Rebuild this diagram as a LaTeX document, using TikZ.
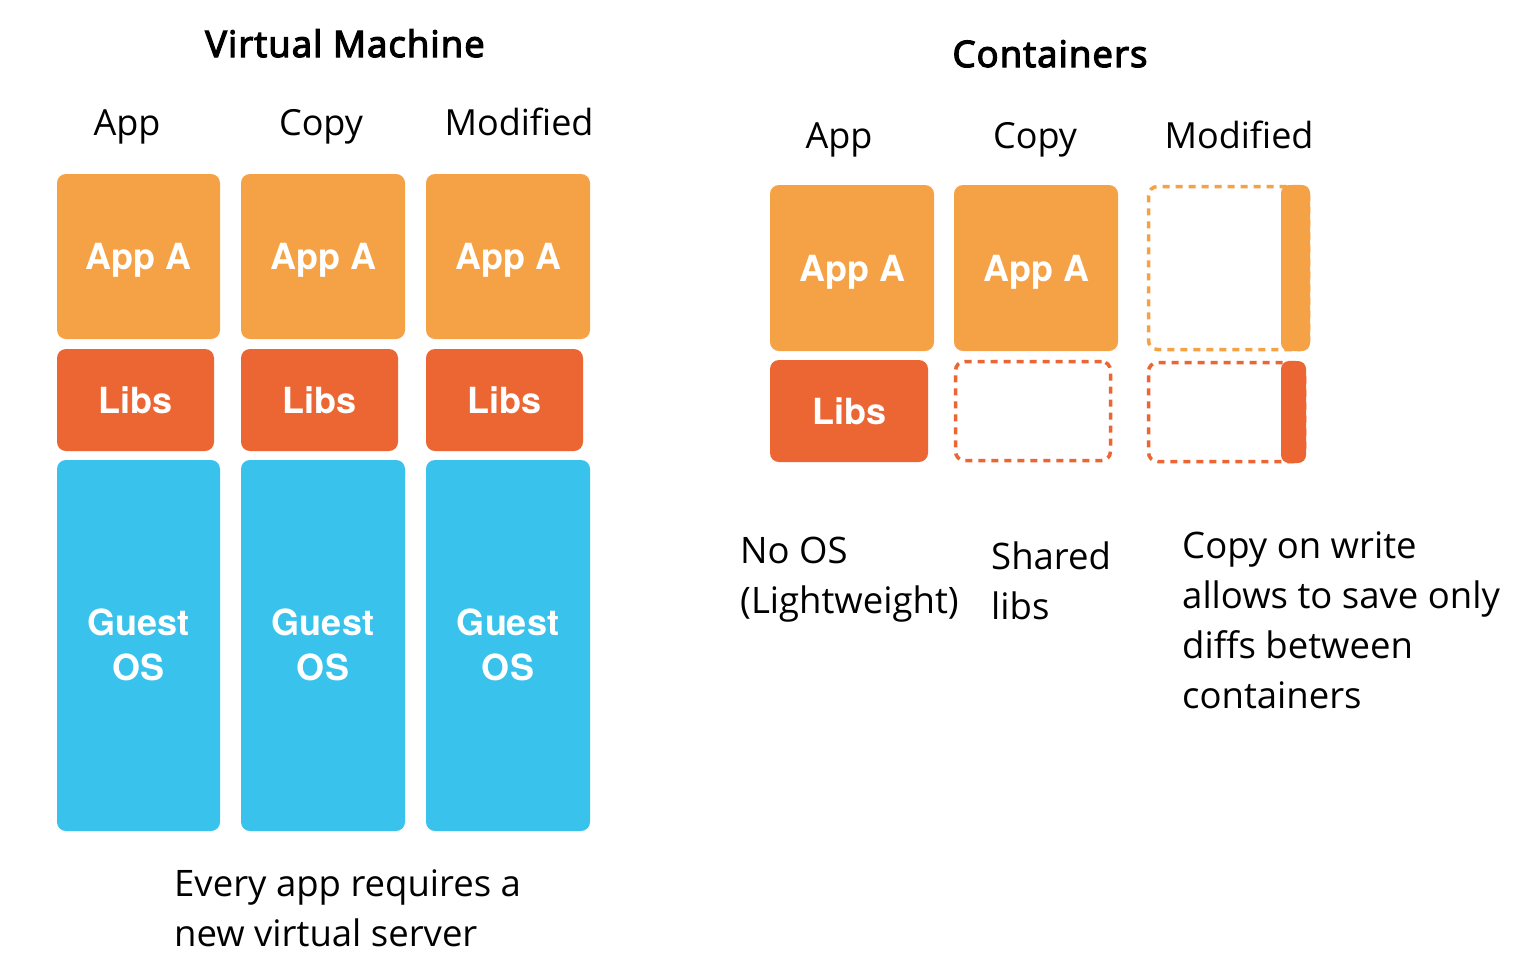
\documentclass[tikz,border=0pt]{standalone}
\usepackage{fontspec}
\setmainfont{Open Sans}
\newfontfamily\heros{TeX Gyre Heros}
\newfontfamily\semi{Open Sans}[FakeBold=3.5,LetterSpace=3]
\definecolor{appC}{HTML}{F5A146}
\definecolor{libC}{HTML}{EC6634}
\definecolor{osC}{HTML}{38C2EC}
\begin{document}
\begin{tikzpicture}[x=1pt,y=-1pt,
  blk/.style={rectangle, rounded corners=9pt, inner sep=0pt, text=white,
    font=\heros\bfseries\fontsize{36pt}{45pt}\selectfont, text height=26pt, text depth=0pt},
  appbox/.style={blk, fill=appC},
  libbox/.style={blk, fill=libC},
  osbox/.style={blk, fill=osC},
  ghost/.style={rectangle, rounded corners=9pt, inner sep=0pt, dash pattern=on 7pt off 6pt, line width=3.5pt},
  barbox/.style={rectangle, rounded corners=8pt, inner sep=0pt},
  oslbl/.style={inner sep=0pt, text=white, align=center, anchor=base,
    font=\heros\bfseries\fontsize{36pt}{45pt}\selectfont},
  txt/.style={font=\fontsize{36.5pt}{50pt}\selectfont, inner sep=0pt, align=left, anchor=base west},
  head/.style={font=\semi\fontsize{36.5pt}{43pt}\selectfont, inner sep=0pt, anchor=base},
  colh/.style={font=\fontsize{36pt}{43pt}\selectfont, inner sep=0pt, anchor=base},
]
\fill[white] (0,0) rectangle (1530,970);
\useasboundingbox (0,0) rectangle (1530,970);

% ---------- Virtual Machine ----------
\node[head] (vmtitle) at (345,57) {Virtual Machine};
\node[colh] (vmh1) at (127,135) {App};
\node[colh] (vmh2) at (321,135) {Copy};
\node[colh] (vmh3) at (519,135) {Modified};

\node[appbox, minimum width=163pt, minimum height=165pt] (vA1) at (138.5,256.5) {App A};
\node[appbox, minimum width=164pt, minimum height=165pt] (vA2) at (323,256.5) {App A};
\node[appbox, minimum width=164pt, minimum height=165pt] (vA3) at (508,256.5) {App A};

\node[libbox, minimum width=157pt, minimum height=102pt] (vL1) at (135.5,400) {Libs};
\node[libbox, minimum width=157pt, minimum height=102pt] (vL2) at (319.5,400) {Libs};
\node[libbox, minimum width=157pt, minimum height=102pt] (vL3) at (504.5,400) {Libs};

\node[osbox, minimum width=163pt, minimum height=371pt] (vO1) at (138.5,645.5) {};
\node[osbox, minimum width=164pt, minimum height=371pt] (vO2) at (323,645.5) {};
\node[osbox, minimum width=164pt, minimum height=371pt] (vO3) at (508,645.5) {};
\node[oslbl] (vO1t) at (138.5,680) {Guest\\OS};
\node[oslbl] (vO2t) at (323,680) {Guest\\OS};
\node[oslbl] (vO3t) at (508,680) {Guest\\OS};

\node[txt] (vmnote) at (174,946) {Every app requires a\\new virtual server};

% ---------- Containers ----------
\node[head] (cttitle) at (1050,67) {Containers};
\node[colh] (cth1) at (839,148) {App};
\node[colh] (cth2) at (1035,148) {Copy};
\node[colh] (cth3) at (1239,148) {Modified};

\node[appbox, minimum width=164pt, minimum height=166pt] (cA1) at (852,268) {App A};
\node[appbox, minimum width=164pt, minimum height=166pt] (cA2) at (1036,268) {App A};
\node[libbox, minimum width=158pt, minimum height=102pt] (cL1) at (849,411) {Libs};
\node[ghost, draw=libC, minimum width=155pt, minimum height=99pt] (cL2) at (1033,411) {};

\node[ghost, draw=appC, minimum width=160pt, minimum height=163pt] (cA3) at (1228.5,268) {};
\node[barbox, fill=appC, minimum width=29pt, minimum height=166pt] (cA3bar) at (1295.5,268) {};
\node[ghost, draw=libC, minimum width=156pt, minimum height=99pt] (cL3) at (1226.5,412) {};
\node[barbox, fill=libC, minimum width=25pt, minimum height=102pt] (cL3bar) at (1293.5,412) {};

\node[txt] (n1) at (740,613) {No OS\\(Lightweight)};
\node[txt] (n2) at (991,619) {Shared\\libs};
\node[txt] (n3) at (1182,708) {Copy on write\\allows to save only\\diffs between\\containers};
\end{tikzpicture}
\end{document}
